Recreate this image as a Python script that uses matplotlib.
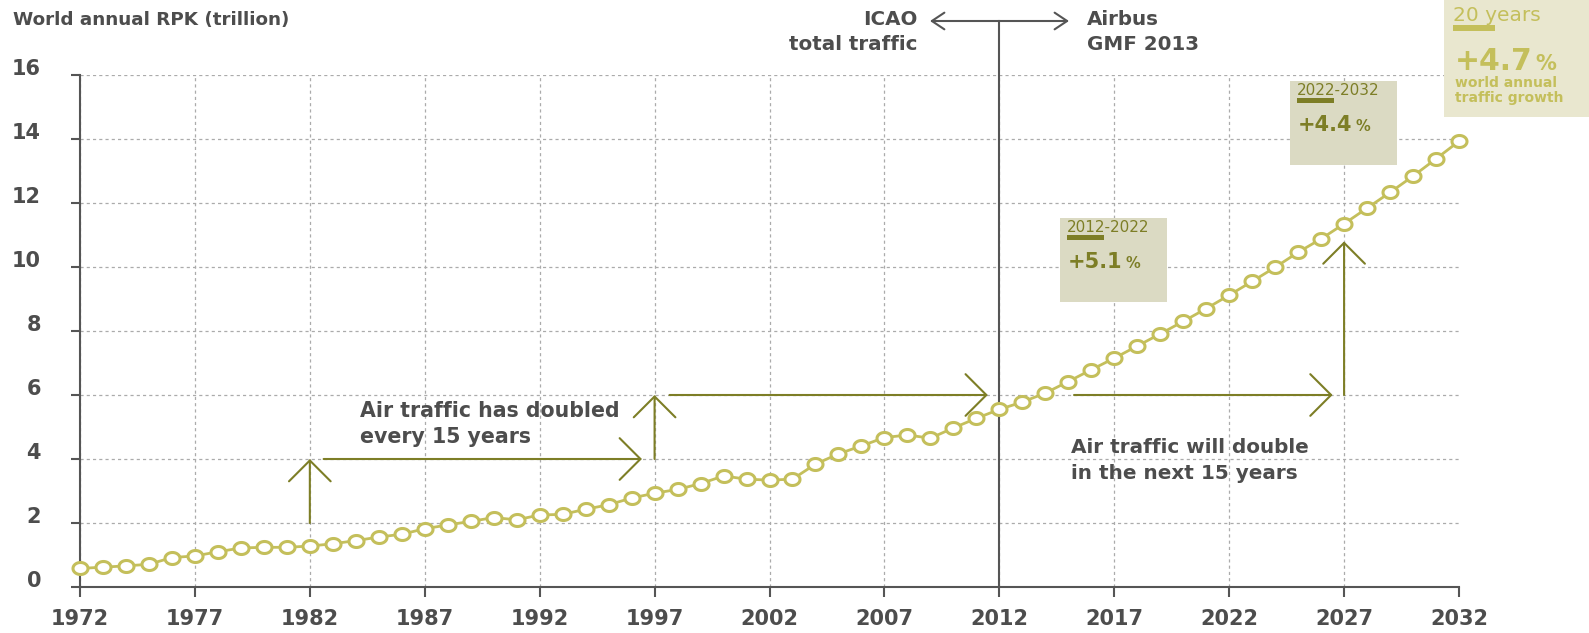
import matplotlib
matplotlib.use("Agg")
import matplotlib.pyplot as plt
import numpy as np
from matplotlib.path import Path
from matplotlib.patches import Rectangle, FancyArrowPatch

# ---------------- data ----------------
years = list(range(1972, 2033))
rpk = [0.58, 0.62, 0.66, 0.71, 0.92, 0.97, 1.10, 1.22, 1.24, 1.24,
       1.28, 1.35, 1.45, 1.56, 1.65, 1.82, 1.94, 2.05, 2.17, 2.10,
       2.25, 2.27, 2.43, 2.57, 2.78, 2.93, 3.05, 3.23, 3.47, 3.37,
       3.34, 3.37, 3.84, 4.16, 4.41, 4.67, 4.75, 4.65, 4.97, 5.27,
       5.55, 5.78, 6.06, 6.42, 6.79, 7.15, 7.53, 7.91, 8.30, 8.70,
       9.12, 9.55, 9.99, 10.46, 10.88, 11.35, 11.84, 12.33, 12.84, 13.38, 13.93]
x_ticks = list(range(1972, 2033, 5))
y_ticks = list(range(0, 17, 2))
title = "World annual RPK (trillion)"
past_text = "Air traffic has doubled\nevery 15 years"
future_text = "Air traffic will double\nin the next 15 years"
box_periods = ["2012-2022", "2022-2032"]
box_growth = ["+5.1", "+4.4"]
total_label = "20 years"
total_growth = "+4.7"
total_text = ["world annual", "traffic growth"]

# ---------------- style ----------------
W, H = 1589, 633
GRAY = "#4d4d4d"
AXC = "#555555"
OLIVE = "#7d7e26"
YEL = "#c4bf5b"
BOX = "#dbdac3"
BOX3 = "#e9e7cf"
plt.rcParams['font.family'] = ['DejaVu Sans']

def fx(px):
    return px / W

def fy(py):
    return 1 - py / H

fig = plt.figure(figsize=(W / 100, H / 100), dpi=100)
ax = fig.add_axes([fx(80), fy(587), fx(1459) - fx(80), fy(75) - fy(587)])

ax.set_xlim(1972, 2032)
ax.set_ylim(0, 16)
ax.set_xticks(x_ticks)
ax.set_yticks(y_ticks)
for s in ["top", "right"]:
    ax.spines[s].set_visible(False)
for s in ["left", "bottom"]:
    ax.spines[s].set_color(AXC)
    ax.spines[s].set_linewidth(1.5)
ax.tick_params(axis='x', direction='out', length=7, width=1.5, color=AXC,
               labelsize=15, labelcolor=GRAY, pad=8.5)
ax.tick_params(axis='y', direction='out', length=6.5, width=1.5, color=AXC,
               labelsize=15, labelcolor=GRAY, pad=21.5)
for lab in ax.get_xticklabels() + ax.get_yticklabels():
    lab.set_fontweight('bold')
for lab in ax.get_yticklabels():
    lab.set_va('baseline')

ax.grid(True, color="#ababab", linestyle=(0, (2.5, 2.5)), linewidth=0.9)
ax.set_axisbelow(True)
ax.get_xgridlines()[-1].set_visible(False)

# vertical separator at 2012
ax.axvline(2012, ymin=0, ymax=(587 - 21) / (587 - 75), color=AXC, lw=1.5,
           clip_on=False, zorder=2)

# elliptical marker
t = np.linspace(0, 2 * np.pi, 60)
ell = Path(np.column_stack([np.cos(t), 0.8 * np.sin(t)]), closed=True)
ax.plot(years, rpk, color=YEL, lw=2.0, marker=ell, markersize=10.8,
        markerfacecolor="white", markeredgecolor=YEL, markeredgewidth=2.2,
        clip_on=False, zorder=4)

# olive arrows
def arrow(p0, p1):
    ax.annotate('', xy=p1, xytext=p0,
                arrowprops=dict(arrowstyle='->,head_length=15,head_width=15',
                                color=OLIVE, lw=1.5, shrinkA=0, shrinkB=0,
                                mutation_scale=1), zorder=3)

arrow((1982, 2), (1982, 4))
arrow((1982.6, 4), (1996.45, 4))
arrow((1997, 4), (1997, 6))
arrow((1997.65, 6), (2011.5, 6))
arrow((2015.25, 6), (2026.5, 6))
arrow((2027, 6), (2027, 10.8))

# texts
fig.text(fx(13), fy(25), title, fontsize=13.2, fontweight='bold', color=GRAY,
         va='baseline', ha='left')
fig.text(fx(917), fy(25), "ICAO", fontsize=14.3, fontweight='bold', color=GRAY,
         va='baseline', ha='right')
fig.text(fx(917), fy(50), "total traffic", fontsize=14.3, fontweight='bold',
         color=GRAY, va='baseline', ha='right')
fig.text(fx(1087), fy(25), "Airbus", fontsize=14.3, fontweight='bold', color=GRAY,
         va='baseline', ha='left')
fig.text(fx(1087), fy(50), "GMF 2013", fontsize=14.3, fontweight='bold',
         color=GRAY, va='baseline', ha='left')
fig.add_artist(FancyArrowPatch((fx(930), fy(21)), (fx(1069), fy(21)),
                               transform=fig.transFigure,
                               arrowstyle='<->,head_length=9,head_width=6',
                               color=AXC, lw=1.5, mutation_scale=1,
                               shrinkA=0, shrinkB=0))

l1, l2 = past_text.split("\n")
fig.text(fx(360), fy(417), l1, fontsize=14.8, fontweight='bold', color=GRAY, va='baseline')
fig.text(fx(360), fy(443), l2, fontsize=14.8, fontweight='bold', color=GRAY, va='baseline')
l1, l2 = future_text.split("\n")
fig.text(fx(1071), fy(453), l1, fontsize=14.4, fontweight='bold', color=GRAY, va='baseline')
fig.text(fx(1071), fy(479), l2, fontsize=14.4, fontweight='bold', color=GRAY, va='baseline')

# boxes
def rect(x0, y0, x1, y1, c):
    fig.add_artist(Rectangle((fx(x0), fy(y1)), (x1 - x0) / W, (y1 - y0) / H,
                             transform=fig.transFigure, facecolor=c,
                             edgecolor='none', zorder=5))

pct_texts = []
box_geo = [(1060, 218), (1290, 81)]
for (bx, by), per, gr in zip(box_geo, box_periods, box_growth):
    rect(bx, by, bx + 107, by + 84, BOX)
    fig.text(fx(bx + 7), fy(by + 14), per, fontsize=11, color=OLIVE,
             va='baseline', zorder=6)
    rect(bx + 7, by + 17, bx + 44, by + 22, OLIVE)
    tg = fig.text(fx(bx + 8), fy(by + 50), gr, fontsize=15, fontweight='bold',
                  color=OLIVE, va='baseline', zorder=6)
    pct_texts.append((tg, 10.5, OLIVE, by + 50))

rect(1444, 0, 1589, 117, BOX3)
fig.text(fx(1453), fy(21), total_label, fontsize=14.5, color=YEL, va='baseline', zorder=6)
rect(1453, 25, 1495, 31, YEL)
tg = fig.text(fx(1455), fy(70), total_growth, fontsize=21.5, fontweight='bold',
              color=YEL, va='baseline', zorder=6)
pct_texts.append((tg, 15, YEL, 70))
fig.text(fx(1455), fy(87), total_text[0], fontsize=10, fontweight='bold', color=YEL,
         va='baseline', zorder=6)
fig.text(fx(1455), fy(102), total_text[1], fontsize=10, fontweight='bold', color=YEL,
         va='baseline', zorder=6)

fig.canvas.draw()
r = fig.canvas.get_renderer()
for tg, fs, c, base in pct_texts:
    bb = tg.get_window_extent(r)
    fig.text(fx(bb.x1 + 3), fy(base), "%", fontsize=fs, fontweight='bold',
             color=c, va='baseline', zorder=6)

fig.savefig("out.png", dpi=100)
